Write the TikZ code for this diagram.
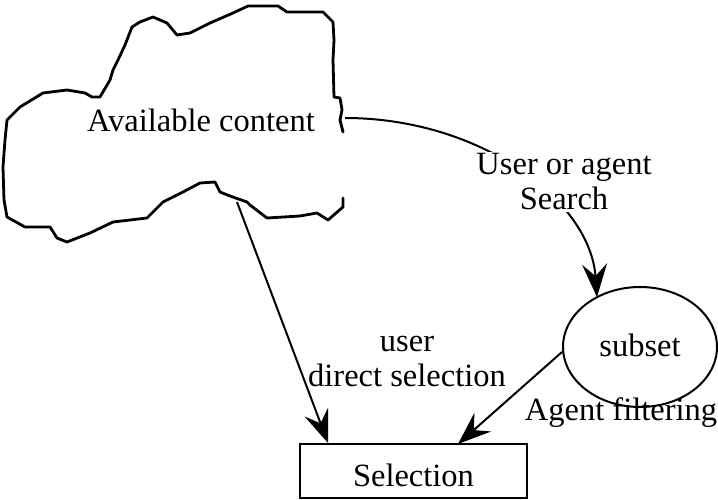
\documentclass[tikz,border=0pt]{standalone}
\usepackage{fontspec}
\setmainfont{Liberation Serif}
\usetikzlibrary{arrows.meta,shapes.geometric}
\begin{document}
\begin{tikzpicture}[x=1pt,y=-1pt,
  lbl/.style={font=\fontsize{32.5}{35}\selectfont, align=center, inner sep=2pt},
  conn/.style={line width=2pt, -{Stealth[length=33pt,width=25pt,inset=12pt]}},
  cloudline/.style={line width=2.8pt, line join=round, line cap=round}]
\useasboundingbox (0,0) rectangle (718,500);
% cloud outline (open at the right side)
\draw[cloudline] (343,198) -- (343,207) -- (328,220) -- (317,213) -- (300,216) -- (267,218)
  -- (250,205) -- (247,202) -- (230,196) -- (220,192) -- (215,182) -- (200,183) -- (183,192)
  -- (163,202) -- (147,218) -- (130,220) -- (113,222) -- (90,233) -- (67,242) -- (57,238)
  -- (50,227) -- (25,227) -- (7,217) -- (4,200) -- (3,167) -- (5,140) -- (7,120) -- (20,107)
  -- (43,93) -- (67,90) -- (85,93) -- (92,97) -- (100,97) -- (110,80) -- (113,70) -- (118,60)
  -- (125,45) -- (132,27) -- (140,22) -- (153,17) -- (167,23) -- (177,35) -- (190,33)
  -- (210,23) -- (233,13) -- (248,6) -- (278,6) -- (287,12) -- (323,12) -- (333,22)
  -- (334,40) -- (333,60) -- (334,97) -- (340,98) -- (342,110) -- (340,120) -- (343,132);
\node[lbl] (avail) at (201,120) {Available content};
\coordinate (cR) at (345,118);
\coordinate (cB) at (237,202);
% subset ellipse
\node[ellipse, draw, line width=2pt, minimum width=154pt, minimum height=120pt, inner sep=0pt] (subset) at (640,347) {};
\node[lbl] at (640,345) {subset};
% selection box
\node[draw, line width=2.4pt, minimum width=227pt, minimum height=54pt, inner sep=0pt] (sel) at (413.5,471) {};
\node[lbl] at (413.5,475) {Selection};
% connectors
\draw[conn] (cR) .. controls (480,118) and (590,200) .. (597,297);
\node[lbl, fill=white] (search) at (564,182) {User or agent\\Search};
\draw[conn] (cB) -- (328,443);
\draw[conn] (subset.west) ++(0,5) -- (458,444);
\node[lbl] (direct) at (407,362) {user\\direct selection};
\node[lbl] (filter) at (621,413) {Agent filtering};
\end{tikzpicture}
\end{document}
